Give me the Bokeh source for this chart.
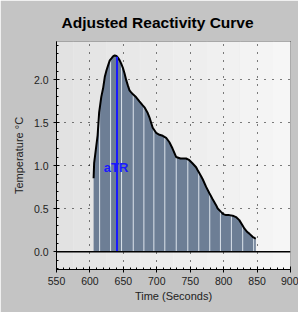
import numpy as np
from bokeh.plotting import figure
from bokeh.models import Range1d, Label, Span, FixedTicker, PrintfTickFormatter, BoxAnnotation
from bokeh.embed import file_html
from bokeh.resources import INLINE

# ---- data ----
time_s = [605.5, 606.3, 610.0, 611.5, 613.8, 617.0, 619.7, 622.2, 624.8, 627.2, 629.7,
          632.2, 634.6, 637.1, 639.6, 641.5, 644.5, 646.6, 649.3, 651.8, 654.4, 656.7,
          659.2, 661.7, 664.4, 669.2, 674.0, 679.0, 681.6, 686.0, 689.0, 693.9, 699.0,
          704.0, 708.9, 714.0, 718.9, 723.4, 728.9, 735.4, 743.8, 748.8, 753.3, 758.8,
          761.2, 766.3, 768.7, 773.8, 778.7, 783.6, 788.7, 791.1, 796.1, 799.6, 803.6,
          808.5, 813.5, 818.5, 823.4, 827.9, 830.9, 835.4, 838.4, 843.3, 846.6, 848.1]
temp_c = [0.855, 1.029, 1.261, 1.354, 1.62, 1.80, 1.90, 2.03, 2.11, 2.166, 2.224,
          2.247, 2.27, 2.282, 2.276, 2.259, 2.224, 2.19, 2.137, 2.073, 1.992, 1.934,
          1.876, 1.853, 1.83, 1.795, 1.748, 1.702, 1.679, 1.62, 1.563, 1.441, 1.383,
          1.36, 1.348, 1.325, 1.273, 1.203, 1.102, 1.084, 1.084, 1.064, 1.029, 0.983,
          0.948, 0.878, 0.843, 0.754, 0.681, 0.611, 0.542, 0.503, 0.464, 0.437, 0.426,
          0.426, 0.42, 0.403, 0.368, 0.31, 0.271, 0.229, 0.211, 0.174, 0.159, 0.153]
atr_time = 640.5
atr_label = "aTR"
stripe_times = [614.5, 630.9, 647.3, 664.8, 680.7, 695.6, 712.0, 729.1, 746.4,
                762.8, 779.2, 795.2, 811.6, 828.5, 844.9]
x_ticks = [550, 600, 650, 700, 750, 800, 850, 900]
x_grid = [600, 650, 700, 750, 800, 850]
y_ticks = [0.0, 0.5, 1.0, 1.5, 2.0]
y_grid = [0.5, 1.0, 1.5, 2.0]

FONT = "Liberation Sans"
X0, X1 = 550, 900

p = figure(width=298, height=312, output_backend="svg", toolbar_location=None,
           x_range=Range1d(X0, X1), y_range=Range1d(-0.206, 2.444),
           min_border_left=56, min_border_right=8, min_border_top=41, min_border_bottom=43)

p.background_fill_color = "#ececec"
p.border_fill_color = "#c4c4c4"
p.outline_line_color = "black"
p.outline_line_width = 1

# white panel behind the chart (screen units, relative to the frame)
panel = BoxAnnotation(left=-46, right=250, top=-31, bottom=268,
                      left_units="screen", right_units="screen",
                      top_units="screen", bottom_units="screen",
                      fill_color="white", fill_alpha=1.0,
                      line_color="#7a7a7a", line_width=1, level="underlay")
bg_boxes = [panel]
# horizontal gradient of the plotting area
n_steps = 14
c_left, c_right = 226, 246
edges = np.linspace(X0, X1, n_steps + 1)
for i in range(n_steps):
    c = int(round(c_left + (c_right - c_left) * i / (n_steps - 1)))
    col = "#%02x%02x%02x" % (c, c, c)
    bg_boxes.append(BoxAnnotation(left=float(edges[i]), right=float(edges[i + 1]),
                                  fill_color=col, fill_alpha=1.0,
                                  line_color=col, line_width=1, level="underlay"))

p.title.text = "Adjusted Reactivity Curve"
p.title.text_font = FONT
p.title.text_font_size = "15.5px"
p.title.text_font_style = "bold"
p.title.text_color = "black"
p.title.align = "left"
p.title.offset = 5
p.title.standoff = 21

# grids
p.xgrid.ticker = FixedTicker(ticks=x_grid)
p.ygrid.ticker = FixedTicker(ticks=y_grid)
for g in (p.xgrid, p.ygrid):
    g.grid_line_color = "black"
    g.grid_line_dash = "1 7"
    g.grid_line_width = 1

p.center = bg_boxes + list(p.center)

# axes
p.xaxis.ticker = FixedTicker(ticks=x_ticks, minor_ticks=list(range(550, 901, 10)))
p.yaxis.ticker = FixedTicker(ticks=y_ticks,
                             minor_ticks=[round(-0.2 + 0.1 * i, 1) for i in range(27)])
p.yaxis.formatter = PrintfTickFormatter(format="%.1f")
for ax in (p.xaxis, p.yaxis):
    ax.axis_line_color = "black"
    ax.major_tick_line_color = "black"
    ax.minor_tick_line_color = "black"
    ax.major_tick_out = 3
    ax.major_tick_in = 3
    ax.minor_tick_in = 2
    ax.minor_tick_out = 0
    ax.major_label_text_font = FONT
    ax.major_label_text_font_size = "10.5px"
    ax.major_label_text_color = "#222222"
    ax.axis_label_text_font = FONT
    ax.axis_label_text_font_size = "11px"
    ax.axis_label_text_font_style = "normal"
    ax.axis_label_text_color = "#222222"
p.xaxis.axis_label = "Time (Seconds)"
p.yaxis.axis_label = "Temperature °C"
p.xaxis.major_label_standoff = 4
p.xaxis.axis_label_standoff = 2
p.yaxis.major_label_standoff = 5
p.yaxis.axis_label_standoff = 6

# area
p.varea(x=time_s, y1=0, y2=temp_c, fill_color="#6d7e95")

# stripes
stripe_top = np.interp(stripe_times, time_s, temp_c)
p.segment(x0=stripe_times, y0=0, x1=stripe_times, y1=stripe_top,
          line_color="#dde4ec", line_width=1)

# curve
p.line(time_s, temp_c, line_color="black", line_width=2)

# zero line
p.add_layout(Span(location=0, dimension="width", line_color="black", line_width=1.5))

# aTR marker
atr_top = float(np.interp(atr_time, time_s, temp_c))
p.segment(x0=[atr_time], y0=[0], x1=[atr_time], y1=[atr_top], line_color="#1a1aff", line_width=2)
p.add_layout(Label(x=atr_time - 1.5, y=0.98, text=atr_label, text_align="center",
                   text_baseline="middle", text_font=FONT, text_font_size="13px",
                   text_font_style="bold", text_color="#1a1aff"))

open("out.html", "w").write(file_html(p, INLINE))
